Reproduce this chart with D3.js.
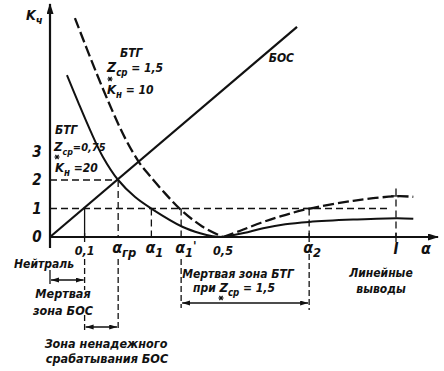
<!DOCTYPE html>
<html>
<head>
<meta charset="utf-8">
<script src="https://cdn.jsdelivr.net/npm/d3@7"></script>
<style>
  body { margin: 0; background: #fff; }
  svg text { font-family: "DejaVu Sans Condensed", "Liberation Sans Narrow", "Liberation Sans", sans-serif; font-style: italic; font-weight: bold; fill: #111; }
</style>
</head>
<body>
<div id="chart"></div>
<script>
const WIDTH = 444
const HEIGHT = 371

// values (alpha on x, Kч on y)
const bocAlpha = [0, 0.714];
const bocK = [0, 7.37];

// БТГ, Z*ср = 0,75, Kн = 20 (solid)
const btgSolidLeftAlpha = [0.049, 0.081, 0.116, 0.153, 0.197, 0.246, 0.295, 0.384, 0.434, 0.47, 0.5];
const btgSolidLeftK = [5.68, 4.74, 3.75, 2.81, 2.0, 1.40, 0.98, 0.35, 0.13, 0.03, 0];
const btgSolidRightAlpha = [0.5, 0.56, 0.616, 0.68, 0.749, 0.876, 1.003, 1.05];
const btgSolidRightK = [0, 0.14, 0.31, 0.45, 0.53, 0.61, 0.66, 0.64];

// БТГ, Z*ср = 1,5, Kн = 10 (dashed)
const btgDashLeftAlpha = [0.072, 0.133, 0.179, 0.217, 0.257, 0.289, 0.332, 0.376, 0.44, 0.5];
const btgDashLeftK = [7.68, 5.79, 4.46, 3.47, 2.63, 2.14, 1.54, 0.98, 0.37, 0];
const btgDashRightAlpha = [0.5, 0.55, 0.61, 0.66, 0.74, 0.876, 1.003, 1.05];
const btgDashRightK = [0, 0.22, 0.5, 0.7, 0.97, 1.27, 1.43, 1.41];

const kTicks = [0, 1, 2, 3];
const alphaTicks = [0.1, 0.5];
const alphaTickLabels = ["0,1", "0,5"];

const markAlpha = [0.197, 0.293, 0.379, 0.749];
const markSub = ["гр", "1", "1", "2"];
const markPrime = [false, false, true, false];
const markLevel = [2, 1, 1, 1];

var svg = d3.select("#chart").append("svg")
    .attr("width", WIDTH)
    .attr("height", HEIGHT)
    .style("display", "block");

var x = d3.scaleLinear().domain([0, 1]).range([50, 396]);
var y = d3.scaleLinear().domain([0, 3]).range([237, 151.5]);

var defs = svg.append("defs");
defs.append("marker")
    .attr("id", "axisArrow")
    .attr("markerUnits", "userSpaceOnUse")
    .attr("markerWidth", 12).attr("markerHeight", 8)
    .attr("refX", 10).attr("refY", 3.5)
    .attr("orient", "auto")
  .append("path").attr("d", "M0,0 L11,3.5 L0,7 Z").attr("fill", "#111");
defs.append("marker")
    .attr("id", "smallArrow")
    .attr("markerUnits", "userSpaceOnUse")
    .attr("markerWidth", 9).attr("markerHeight", 6)
    .attr("refX", 8).attr("refY", 2.5)
    .attr("orient", "auto-start-reverse")
  .append("path").attr("d", "M0,0 L8,2.5 L0,5 Z").attr("fill", "#111");

var line = d3.line()
    .x(d => x(d[0]))
    .y(d => y(d[1]))
    .curve(d3.curveCatmullRom.alpha(0.5));

const zip = (a, b) => a.map((v, i) => [v, b[i]]);

// guide lines (thin dashed)
const guide = (x1, y1, x2, y2) => svg.append("line")
    .attr("x1", x1).attr("y1", y1).attr("x2", x2).attr("y2", y2)
    .attr("stroke", "#111").attr("stroke-width", 1.3)
    .attr("stroke-dasharray", "7,4");

guide(x(0), y(2), x(markAlpha[0]), y(2));
guide(x(0), y(1), x(0.985), y(1));
markAlpha.forEach((a, i) => guide(x(a), y(markLevel[i]), x(a), y(0)));
// 0,1 vertical is solid
svg.append("line").attr("x1", x(0.1)).attr("x2", x(0.1)).attr("y1", y(1)).attr("y2", y(0))
    .attr("stroke", "#111").attr("stroke-width", 1.3);
// vertical at I
guide(x(1), y(1.7), x(1), y(0));
// small crosses
[[x(1), y(1.44)], [x(markAlpha[3]), y(1)]].forEach(p => {
    svg.append("line").attr("x1", p[0] - 5).attr("x2", p[0] + 5).attr("y1", p[1]).attr("y2", p[1])
        .attr("stroke", "#111").attr("stroke-width", 1.3);
});

// curves
svg.append("path").datum(zip(bocAlpha, bocK))
    .attr("fill", "none").attr("stroke", "#111").attr("stroke-width", 2.2)
    .attr("d", d3.line().x(d => x(d[0])).y(d => y(d[1])));

[zip(btgSolidLeftAlpha, btgSolidLeftK), zip(btgSolidRightAlpha, btgSolidRightK)].forEach(d => {
    svg.append("path").datum(d)
        .attr("fill", "none").attr("stroke", "#111").attr("stroke-width", 2)
        .attr("d", line);
});
[zip(btgDashLeftAlpha, btgDashLeftK), zip(btgDashRightAlpha, btgDashRightK)].forEach(d => {
    svg.append("path").datum(d)
        .attr("fill", "none").attr("stroke", "#111").attr("stroke-width", 2.3)
        .attr("stroke-dasharray", "11,4")
        .attr("d", line);
});

// axes
svg.append("line")
    .attr("x1", x(0)).attr("y1", 248).attr("x2", x(0)).attr("y2", 4)
    .attr("stroke", "#111").attr("stroke-width", 2.2)
    .attr("marker-end", "url(#axisArrow)");
svg.append("line")
    .attr("x1", x(0)).attr("y1", y(0)).attr("x2", 438).attr("y2", y(0))
    .attr("stroke", "#111").attr("stroke-width", 2)
    .attr("marker-end", "url(#axisArrow)");
// x ticks
[0.1, markAlpha[3], 1].forEach(a => {
    svg.append("line").attr("x1", x(a)).attr("x2", x(a)).attr("y1", y(0) - 4).attr("y2", y(0) + 5)
        .attr("stroke", "#111").attr("stroke-width", 1.3);
});

// text helper: parts = [[text, "sub"|"sup"|null, size]]
function label(px, py, parts, size, anchor) {
    var t = svg.append("text").attr("x", px).attr("y", py)
        .attr("font-size", size).attr("text-anchor", anchor || "start");
    var shift = 0;
    parts.forEach(p => {
        var target = p[1] === "sub" ? 4 : p[1] === "sup" ? -3 : 0;
        t.append("tspan").attr("dy", target - shift)
            .attr("font-size", p[2] || (p[1] ? size * 0.8 : size))
            .text(p[0]);
        shift = target;
    });
    return t;
}

// the little star under Z (drawn as a mark)
function star(cx, cy) {
    var r = 2.6;
    svg.append("path")
        .attr("d", `M${cx - r},${cy} L${cx + r},${cy} M${cx - r * 0.6},${cy - r * 0.8} L${cx + r * 0.6},${cy + r * 0.8} M${cx - r * 0.6},${cy + r * 0.8} L${cx + r * 0.6},${cy - r * 0.8}`)
        .attr("stroke", "#111").attr("stroke-width", 1.2);
}

// y tick labels
kTicks.forEach(k => label(37, y(k) + 5, [[String(k)]], 15, "middle"));
label(26, 20, [["K"], ["ч", "sub"]], 14);

// x tick labels
alphaTicks.forEach((a, i) => label(x(a), 255, [[alphaTickLabels[i]]], 12.5, "middle"));
markAlpha.forEach((a, i) => {
    var parts = [["α"], [markSub[i], "sub"]];
    if (markPrime[i]) parts.push(["'", "sup", 13]);
    label(x(a) - 6, 253, parts, 16);
});
label(x(1), 254, [["I"]], 15, "middle");
label(426, 254, [["α"]], 16, "middle");

label(44, 268, [["Нейтраль"]], 12, "middle");
label(381, 277, [["Линейные"]], 12, "middle");
label(381, 293, [["выводы"]], 12, "middle");

// curve labels
label(294, 62, [["БОС"]], 12, "end");
label(120, 57, [["БТГ"]], 12);
label(107, 72, [["Z", null, 14], ["ср", "sub"], [" = 1,5", null]], 12);
star(110, 79);
label(107, 94, [["K", null, 13], ["н", "sub"], [" = 10", null]], 12);

label(55, 134, [["БТГ"]], 12);
label(54, 151, [["Z", null, 13], ["ср", "sub"], ["=0,75", null]], 11);
star(57, 157);
label(55, 172, [["K", null, 13], ["н", "sub"], [" =20", null]], 12);

// bracket helper
function bracket(x1, x2, yy) {
    svg.append("line").attr("x1", x1 + 1).attr("x2", x2 - 1).attr("y1", yy).attr("y2", yy)
        .attr("stroke", "#111").attr("stroke-width", 1.3)
        .attr("marker-start", "url(#smallArrow)")
        .attr("marker-end", "url(#smallArrow)");
}
function vdash(xx, y1, y2) { guide(xx, y1, xx, y2).attr("stroke-dasharray", "6,3"); }

// Мертвая зона БОС
svg.append("line").attr("x1", x(0)).attr("x2", x(0)).attr("y1", 270).attr("y2", 284)
    .attr("stroke", "#111").attr("stroke-width", 1.3);
vdash(x(0.1), 259, 290);
bracket(x(0), x(0.1), 280);
label(63, 298, [["Мертвая"]], 12.5, "middle");
label(63, 315, [["зона БОС"]], 12.5, "middle");

// Зона ненадежного срабатывания БОС
vdash(x(0.1), 315, 331);
vdash(x(markAlpha[0]), 259, 331);
bracket(x(0.1), x(markAlpha[0]), 327);
label(106, 348, [["Зона ненадежного"]], 12.5, "middle");
label(107, 363, [["срабатывания БОС"]], 12.5, "middle");

// Мертвая зона БТГ
vdash(x(markAlpha[2]), 259, 308);
vdash(x(markAlpha[3]), 254, 310);
bracket(x(markAlpha[2]), x(markAlpha[3]), 303);
label(238, 278, [["Мертвая зона БТГ"]], 12, "middle");
label(193, 292, [["при "], ["Z", null, 13], ["ср", "sub"], [" = 1,5", null]], 12);
star(221, 298);
</script>
</body>
</html>
